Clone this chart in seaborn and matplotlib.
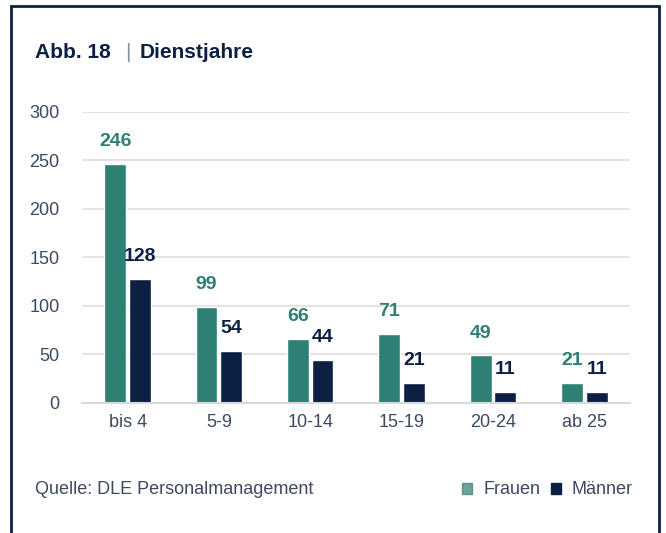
import matplotlib
matplotlib.use('Agg')
import matplotlib.pyplot as plt
import seaborn as sns
import pandas as pd
from matplotlib.patches import Rectangle, Patch

# data
categories = ['bis 4', '5-9', '10-14', '15-19', '20-24', 'ab 25']
frauen = [246, 99, 66, 71, 49, 21]
maenner = [128, 54, 44, 21, 11, 11]
series = ['Frauen', 'Männer']
colors = ['#2e7f74', '#0c2043']

df = pd.DataFrame({
    'Kategorie': categories * 2,
    'Wert': frauen + maenner,
    'Geschlecht': [series[0]] * len(categories) + [series[1]] * len(categories),
})

sns.set_style('white')
plt.rcParams['font.family'] = ['Liberation Sans', 'DejaVu Sans']

fig = plt.figure(figsize=(6.66, 5.33), dpi=100)
ax = fig.add_axes([0.123, 0.244, 0.823, 0.546])

sns.barplot(data=df, x='Kategorie', y='Wert', hue='Geschlecht', palette=colors,
            width=0.54, gap=0.12, ax=ax, legend=False, saturation=1)

for cont, c in zip(ax.containers, colors):
    ax.bar_label(cont, padding=10, color=c, fontsize=14, fontweight='bold')

ax.set_ylim(0, 300)
ax.set_xlim(-0.5, 5.5)
ax.set_yticks([0, 50, 100, 150, 200, 250, 300])
ax.yaxis.grid(True, color='#e3e3e3', linewidth=1.5)
ax.set_axisbelow(True)
for s in ['top', 'right', 'left']:
    ax.spines[s].set_visible(False)
ax.spines['bottom'].set_color('#d9d9d9')
ax.spines['bottom'].set_linewidth(1.5)
ax.tick_params(axis='both', length=0, labelsize=13, labelcolor='#3b4a5f')
ax.tick_params(axis='y', pad=16)
ax.tick_params(axis='x', pad=8)
ax.set_xlabel('')
ax.set_ylabel('')

# frame
fig.patches.append(Rectangle((11 / 666, -0.05), 648 / 666, 1.05 - 6 / 533, transform=fig.transFigure,
                             fill=False, edgecolor='#0c2043', linewidth=2))

fig.text(35 / 666, 1 - 53 / 533, 'Abb. 18', fontsize=15, fontweight='bold', color='#0c2043', va='center')
fig.text(125 / 666, 1 - 53 / 533, '|', fontsize=15, color='#8a93a3', va='center')
fig.text(140 / 666, 1 - 53 / 533, 'Dienstjahre', fontsize=15, fontweight='bold', color='#0c2043', va='center')

fig.text(35 / 666, 1 - 490 / 533, 'Quelle: DLE Personalmanagement', fontsize=13, color='#3b4a5f', va='center')

handles = [Patch(color=colors[0], alpha=0.7), Patch(color=colors[1])]
fig.legend(handles, series, loc='center right', bbox_to_anchor=(640 / 666, 1 - 490 / 533),
           frameon=False, ncol=2, fontsize=13, handlelength=0.55, handleheight=0.55,
           handletextpad=0.6, columnspacing=0.6, labelcolor='#3b4a5f', borderaxespad=0)

fig.savefig('out.png', dpi=100)
